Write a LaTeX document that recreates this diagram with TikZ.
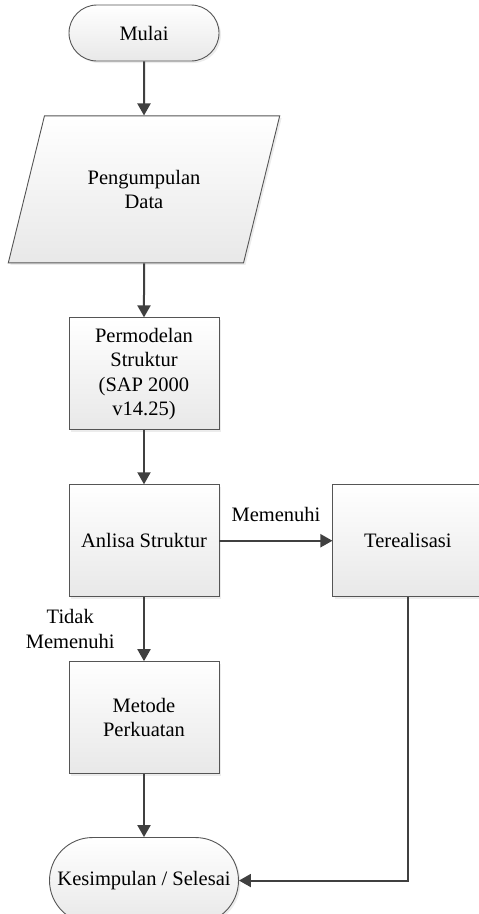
\documentclass[tikz,border=0pt]{standalone}
\usepackage{fontspec}
\setmainfont{Liberation Serif}
\usepackage{tikz}
\usetikzlibrary{positioning,arrows.meta,shapes.geometric,shadows}
\usepackage{xcolor}
\definecolor{linegray}{HTML}{404040}
\definecolor{edgegray}{HTML}{555555}

\begin{document}
\begin{tikzpicture}[
    x=1pt, y=1pt,
    font=\fontsize{20.5}{24.5}\selectfont,
    node distance=54pt,
    basebox/.style={draw=edgegray, line width=0.9pt, top color=white, bottom color=black!9, align=center, inner sep=1pt, drop shadow={opacity=0.15, shadow xshift=2pt, shadow yshift=-2pt}},
    terminal/.style={basebox, rectangle, rounded corners=28pt, minimum width=150pt, minimum height=56pt},
    iobox/.style={basebox, trapezium, trapezium left angle=63, trapezium right angle=117, trapezium stretches=true, minimum width=272pt, minimum height=147pt},
    procbox/.style={basebox, rectangle, minimum width=150pt, minimum height=112pt},
    flow/.style={draw=linegray, line width=2pt, -{Triangle[length=12pt, width=13pt]}},
]

\useasboundingbox (0,0) rectangle (479,-914);

\node[terminal] (mulai) at (144,-33) {Mulai};
\node[iobox, below=of mulai] (data) {Pengumpulan\\Data};
\node[procbox, below=of data] (model) {Permodelan\\Struktur\\(SAP 2000\\v14.25)};
\node[procbox, below=of model] (analisa) {Anlisa Struktur};
\node[procbox, right=113pt of analisa] (real) {Terealisasi};
\node[procbox, below=64pt of analisa] (metode) {Metode\\Perkuatan};
\node[terminal, rounded corners=43pt, minimum width=189pt, minimum height=86pt, below=63pt of metode] (selesai) {Kesimpulan / Selesai};

\draw[flow] (mulai) -- (data);
\draw[flow] (data) -- (model);
\draw[flow] (model) -- (analisa);
\draw[flow] (analisa) -- node[above=15pt] (lblya) {Memenuhi} (real);
\draw[flow] (analisa) -- node[left=25pt, align=center] (lbltidak) {Tidak\\Memenuhi} (metode);
\draw[flow] (metode) -- (selesai);
\draw[flow] (real.south) |- (selesai.east);
\end{tikzpicture}
\end{document}
